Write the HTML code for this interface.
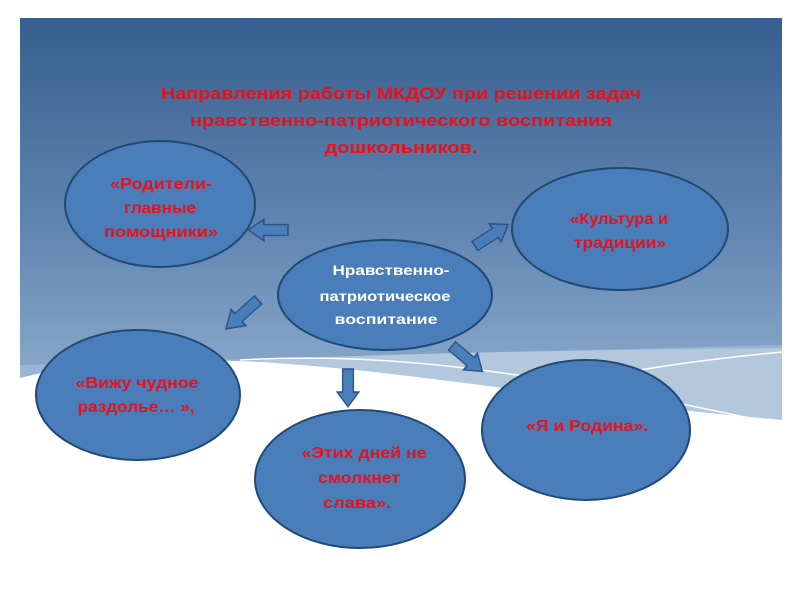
<!DOCTYPE html>
<html><head><meta charset="utf-8"><style>
html,body{margin:0;padding:0;background:#fff;overflow:hidden;}
svg{display:block}
text{font-family:"Liberation Sans","DejaVu Sans",sans-serif;}
</style></head><body>
<svg width="800" height="600" viewBox="0 0 800 600" xmlns="http://www.w3.org/2000/svg">
<defs>
<linearGradient id="bg" x1="0" y1="0" x2="0" y2="1">
<stop offset="0" stop-color="#365f8f"/>
<stop offset="0.5" stop-color="#6185b1"/>
<stop offset="1" stop-color="#9ab5d5"/>
</linearGradient>
</defs>
<rect x="20" y="18" width="762" height="420" fill="url(#bg)"/>
<path d="M20 365 L782 345 L782 430 L20 430 Z" fill="#9ab5d5"/>
<path d="M230 362 C 400 352 600 350 782 348 L782 425 L230 425 Z" fill="#b3c8dc"/>
<path d="M20 378 C 90 360 170 358 260 362 C 420 372 560 400 782 420 L782 600 L20 600 Z" fill="#fff"/>
<path d="M240 360 C 380 352 520 368 782 425" fill="none" stroke="#fff" stroke-width="1.5"/>
<path d="M640 370 C 700 360 750 355 782 352" fill="none" stroke="#fff" stroke-width="1.5"/>
<g fill="#e8101a" font-size="17" font-weight="bold" text-anchor="middle" lengthAdjust="spacingAndGlyphs">
<text x="401" y="99" textLength="480" lengthAdjust="spacingAndGlyphs">Направления работы МКДОУ при решении задач</text>
<text x="401" y="126" textLength="422" lengthAdjust="spacingAndGlyphs">нравственно-патриотического воспитания</text>
<text x="401" y="153" textLength="153" lengthAdjust="spacingAndGlyphs">дошкольников.</text>
</g>
<g fill="#4a7ebb" stroke="#1f4a74" stroke-width="2">
<ellipse cx="160" cy="204" rx="95" ry="63"/>
<ellipse cx="620" cy="229" rx="108" ry="61"/>
<ellipse cx="385" cy="295" rx="107" ry="55"/>
<ellipse cx="138" cy="395" rx="102" ry="65"/>
<ellipse cx="360" cy="479" rx="105" ry="69"/>
<ellipse cx="586" cy="430" rx="104" ry="70"/>
</g>
<g fill="#4a7ebb" stroke="#2a5585" stroke-width="1.5">
<polygon points="0,-6 -22,-6 -22,-12 -36,0 -22,12 -22,6 0,6" transform="translate(288,230) scale(1.1,0.9)"/>
<polygon points="0,-6 22,-6 22,-12 36,0 22,12 22,6 0,6" transform="translate(475,246) rotate(-33) scale(1.1,0.9)"/>
<polygon points="0,-6 22,-6 22,-12 36,0 22,12 22,6 0,6" transform="translate(258,300) rotate(138) scale(1.2,0.9)"/>
<polygon points="0,-6 22,-6 22,-12 36,0 22,12 22,6 0,6" transform="translate(348,369) rotate(90) scale(1.05,0.9)"/>
<polygon points="0,-6 22,-6 22,-12 36,0 22,12 22,6 0,6" transform="translate(452,346) rotate(40) scale(1.1,0.9)"/>
</g>
<g fill="#e8101a" font-size="16" font-weight="bold" text-anchor="middle">
<text x="161" y="189" textLength="102" lengthAdjust="spacingAndGlyphs">«Родители-</text>
<text x="160" y="213" textLength="72" lengthAdjust="spacingAndGlyphs">главные</text>
<text x="161" y="237" textLength="114" lengthAdjust="spacingAndGlyphs">помощники»</text>
<text x="619" y="224" textLength="98" lengthAdjust="spacingAndGlyphs">«Культура и</text>
<text x="620" y="248" textLength="92" lengthAdjust="spacingAndGlyphs">традиции»</text>
<text x="137" y="388" textLength="123" lengthAdjust="spacingAndGlyphs">«Вижу чудное</text>
<text x="136" y="412" textLength="117" lengthAdjust="spacingAndGlyphs">раздолье… »,</text>
<text x="364" y="458" textLength="125" lengthAdjust="spacingAndGlyphs">«Этих дней не</text>
<text x="359" y="483" textLength="82" lengthAdjust="spacingAndGlyphs">смолкнет</text>
<text x="357" y="508" textLength="68" lengthAdjust="spacingAndGlyphs">слава».</text>
<text x="587" y="431" textLength="122" lengthAdjust="spacingAndGlyphs">«Я  и Родина».</text>
</g>
<g fill="#fff" font-size="14" font-weight="bold" text-anchor="middle">
<text x="391" y="275" textLength="117" lengthAdjust="spacingAndGlyphs">Нравственно-</text>
<text x="385" y="301" textLength="131" lengthAdjust="spacingAndGlyphs">патриотическое</text>
<text x="386" y="324" textLength="103" lengthAdjust="spacingAndGlyphs">воспитание</text>
</g>
</svg>
</body></html>
